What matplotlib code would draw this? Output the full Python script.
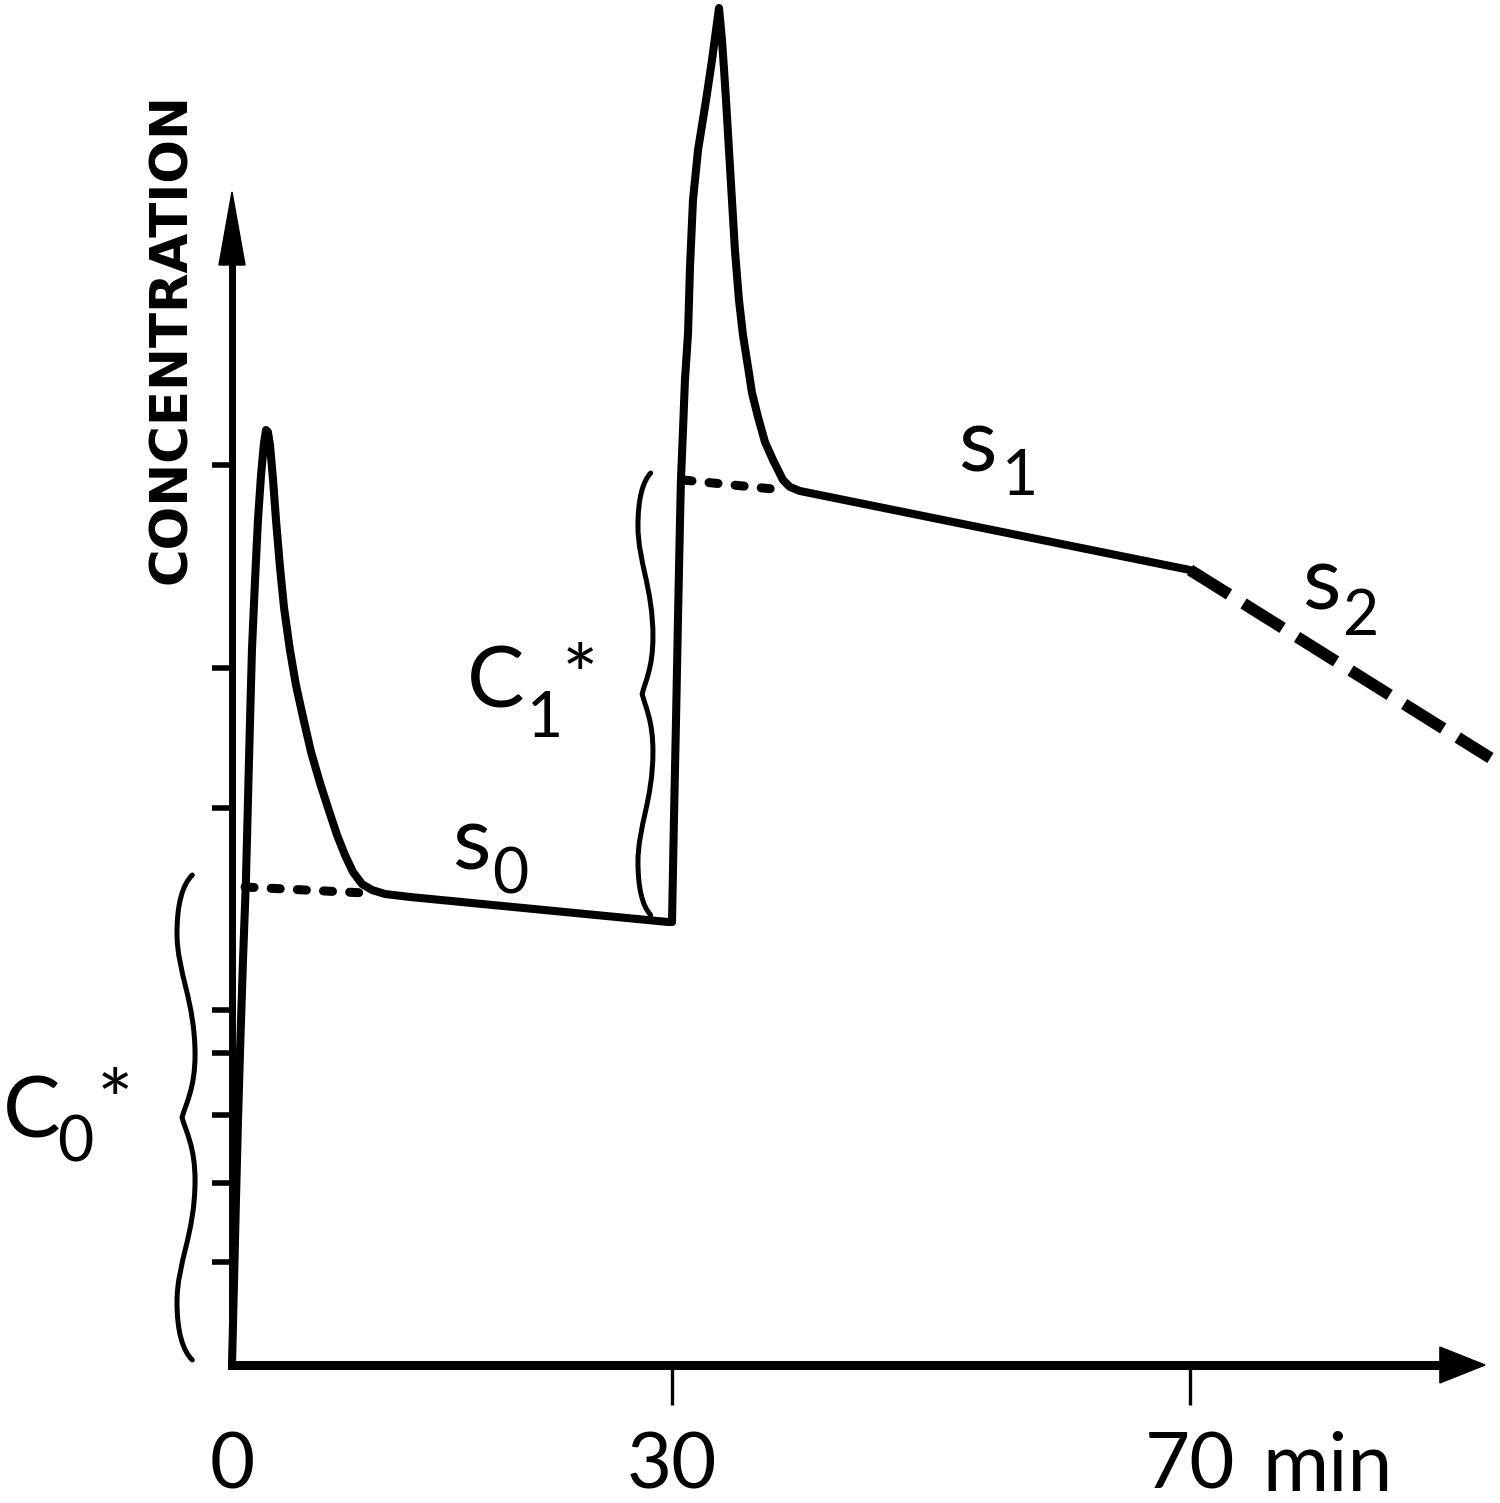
import numpy as np
import matplotlib
matplotlib.use("Agg")
import matplotlib.pyplot as plt
from matplotlib.path import Path
from matplotlib.patches import PathPatch, Polygon

# time in min, concentration in arbitrary units
t_dose0 = [0, 0.14, 0.27, 0.41, 0.55, 0.75, 0.95, 1.09, 1.23, 1.36, 1.57, 1.77, 1.98,
           2.18, 2.32, 2.45, 2.59, 2.80, 3.00, 3.27, 3.55, 3.95, 4.36, 4.84, 5.39, 6.00,
           6.55, 7.16, 7.70, 8.25, 8.86, 9.55, 10.43, 12.14, 29.73, 30.0]
c_dose0 = [0, 8.5, 16.5, 24.5, 31.5, 40.5, 48.5, 56.5, 64.5, 71.5, 78.5, 84.5, 89.0,
           92.2, 93.5, 93.3, 92.0, 88.5, 84.5, 79.8, 75.7, 71.5, 68.0, 64.8, 61.3, 58.2,
           55.7, 53.0, 51.0, 49.3, 48.1, 47.5, 47.1, 46.8, 44.3, 44.3]

t_dose1 = [30.0, 30.15, 30.31, 30.46, 30.62, 30.69, 30.85, 31.00, 31.24, 31.39, 31.62,
           32.01, 32.63, 33.09, 33.40, 33.63, 33.86, 34.02, 34.17, 34.40, 34.63, 34.86,
           35.17, 35.48, 35.87, 36.18, 36.64, 37.18, 37.80, 38.57, 39.11, 39.88, 70.0]
c_dose1 = [44.3, 54.5, 64.5, 74.5, 84.5, 88.5, 93.5, 98.5, 103.2, 109.8, 116.5,
           121.5, 126.5, 130.5, 133.5, 135.7, 132.5, 129.5, 126.5, 121.5, 116.5, 111.5,
           106.5, 103.0, 99.8, 97.2, 94.8, 92.3, 90.5, 88.5, 87.8, 87.4, 79.5]

t_s2 = [70.0, 93.2]
c_s2 = [79.5, 60.7]

# back-extrapolated plateaus (C0*, C1*)
t_extrap0 = [0.89, 9.07]
c_extrap0 = [47.8, 47.2]
t_extrap1 = [30.85, 38.57]
c_extrap1 = [88.5, 87.5]

y_ticks = [90.0, 69.7, 55.7, 35.5, 31.2, 25.0, 18.2, 10.3]
x_ticks = [0, 30, 70]
x_tick_labels = ["0", "30", "70"]


# sketch axis is not linear in time
def fwd(x):
    x = np.asarray(x, dtype=float)
    return np.where(x <= 30, x * 440 / 30, 440 + (x - 30) * 518 / 40)


def inv(u):
    u = np.asarray(u, dtype=float)
    return np.where(u <= 440, u * 30 / 440, 30 + (u - 440) * 40 / 518)


def brace(ax, x_left, width, y_top, y_bot, lw=3.6):
    # curly brace opening to the right, cusp pointing left
    half = [(0.85, 0.0), (0.3, 0.02), (0.0, 0.06), (0.0, 0.12),
            (0.0, 0.20), (1.0, 0.26), (1.0, 0.37),
            (1.0, 0.44), (0.5, 0.47), (0.28, 0.5)]
    lower = [(u, 1 - f) for u, f in reversed(half)][1:]
    pts = half + lower
    verts = [(x_left + u * width, y_top + f * (y_bot - y_top)) for u, f in pts]
    codes = [Path.MOVETO] + [Path.CURVE4] * (len(verts) - 1)
    ax.add_patch(PathPatch(Path(verts, codes), fill=False, lw=lw, color="black",
                           capstyle="round", clip_on=False))


fig = plt.figure(figsize=(15, 15.03), dpi=100)
ax = fig.add_axes([232 / 1500, 138 / 1503, 1253 / 1500, 1173 / 1503])
ax.set_xscale("function", functions=(fwd, inv))
ax.set_xlim(0, 92.78)
ax.set_ylim(0, 117.3)

lw = 5.8
ax.plot(t_dose0, c_dose0, color="black", lw=lw, solid_joinstyle="round",
        solid_capstyle="round", clip_on=False)
ax.plot(t_dose1, c_dose1, color="black", lw=lw, solid_joinstyle="round",
        solid_capstyle="round", clip_on=False)
ax.plot(t_s2, c_s2, color="black", lw=8.5, linestyle=(0, (3.9, 1.45)), clip_on=False)
ax.plot(t_extrap0, c_extrap0, color="black", lw=6.5, linestyle=(0, (1.0, 1.9)),
        dash_capstyle="round", clip_on=False)
ax.plot(t_extrap1, c_extrap1, color="black", lw=6.5, linestyle=(0, (1.0, 1.9)),
        dash_capstyle="round", clip_on=False)

# axes with arrow heads
for s in ["top", "right"]:
    ax.spines[s].set_visible(False)
ax.spines["left"].set_linewidth(5)
ax.spines["bottom"].set_linewidth(6.5)
ax.spines["left"].set_bounds(0, 112.5)
ax.spines["bottom"].set_bounds(0, 90.0)
ax.add_patch(Polygon([(-0.0104, 0.9378), (0, 1.0), (0.0104, 0.9378)], closed=True,
                     color="black", transform=ax.transAxes, clip_on=False))
ax.add_patch(Polygon([(0.964, -0.0153), (1.0, 0.0), (0.964, 0.0153)], closed=True,
                     color="black", transform=ax.transAxes, clip_on=False))

ax.set_yticks(y_ticks)
ax.tick_params(axis="y", direction="out", length=14.4, width=4, labelleft=False)
ax.set_xticks(x_ticks)
ax.set_xticklabels(x_tick_labels)
ax.set_xticks([30, 70], minor=True)
ax.xaxis.remove_overlapping_locs = False
ax.tick_params(axis="x", which="major", length=0, pad=48, labelsize=56)
ax.tick_params(axis="x", which="minor", length=29, width=2.4, direction="out")
for lab in ax.get_xticklabels():
    lab.set_fontfamily("Lato")
ax.text(75.6, -12.6, "min", fontsize=58, family="Lato", ha="left", va="baseline")

ax.text(-4.09, 102.6, "CONCENTRATION", rotation=90, ha="center", va="center",
        fontsize=37, fontweight="bold", family="DejaVu Sans")

# braces for C0* and C1*
brace(ax, -3.75, 1.23, 49.0, 0.5)
brace(ax, 27.68, 1.02, 89.2, 45.0)

# labels
big, small = 62, 45
ax.text(-15.61, 22.7, "C", fontsize=big, family="Lato", va="baseline")
ax.text(-11.93, 20.3, "0", fontsize=small, family="Lato", va="baseline")
ax.text(-9.20, 29.7, "*", fontsize=big, family="Lato", va="top")
ax.text(16.02, 65.7, "C", fontsize=big, family="Lato", va="baseline")
ax.text(20.11, 62.8, "1", fontsize=small, family="Lato", va="baseline")
ax.text(22.5, 72.2, "*", fontsize=big, family="Lato", va="top")

ax.text(15.0, 49.5, "s", fontsize=64, family="Lato", va="baseline")
ax.text(17.73, 47.2, "0", fontsize=small, family="Lato", va="baseline")
ax.text(52.08, 89.3, "s", fontsize=64, family="Lato", va="baseline")
ax.text(55.48, 87.0, "1", fontsize=small, family="Lato", va="baseline")
ax.text(78.65, 75.5, "s", fontsize=64, family="Lato", va="baseline")
ax.text(81.74, 73.0, "2", fontsize=small, family="Lato", va="baseline")

fig.savefig("out.png", dpi=100)
